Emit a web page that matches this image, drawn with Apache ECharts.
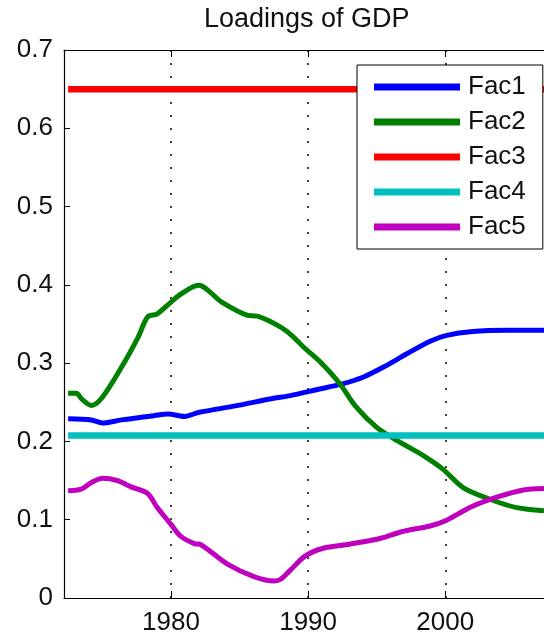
<!DOCTYPE html>
<html>
<head>
<meta charset="utf-8">
<script src="https://cdn.jsdelivr.net/npm/echarts@6/dist/echarts.min.js"></script>
<style>
  html, body { margin: 0; padding: 0; background: #fff; }
  #chart { width: 544px; height: 635px; }
</style>
</head>
<body>
<div id="chart"></div>
<script>
// 数据：[年份, 载荷]
const fac1 = [[1972.5, 0.229], [1974.2, 0.2275], [1975.0, 0.2235], [1976.4, 0.2275], [1978.8, 0.233],
  [1979.8, 0.235], [1981.0, 0.232], [1982.0, 0.237], [1984.9, 0.246], [1987.3, 0.2545],
  [1988.7, 0.2585], [1990.6, 0.266], [1992.5, 0.2735], [1994.0, 0.282], [1995.5, 0.295],
  [1997.2, 0.312], [1998.9, 0.328], [2000.1, 0.3355], [2002.0, 0.3405], [2004.5, 0.342], [2007.2, 0.342]]
const fac2 = [[1972.5, 0.2615], [1973.1, 0.2615], [1973.5, 0.254], [1974.2, 0.246], [1975.0, 0.2565],
  [1976.4, 0.295], [1977.6, 0.333], [1978.3, 0.359], [1979.0, 0.363], [1980.0, 0.378],
  [1980.7, 0.388], [1982.0, 0.3995], [1983.7, 0.378], [1985.6, 0.361], [1986.3, 0.36],
  [1988.0, 0.346], [1988.9, 0.334], [1989.7, 0.32], [1990.8, 0.303], [1992.3, 0.274],
  [1993.5, 0.244], [1995.0, 0.218], [1996.6, 0.2], [1998.4, 0.182], [1999.8, 0.165],
  [2001.3, 0.141], [2003.2, 0.1265], [2005.2, 0.1155], [2007.2, 0.1115]]
const fac3 = [[1972.5, 0.65], [2007.2, 0.65]]
const fac4 = [[1972.5, 0.2075], [2007.2, 0.2075]]
const fac5 = [[1972.5, 0.137], [1973.45, 0.139], [1974.2, 0.1475], [1975.0, 0.153], [1976.1, 0.15],
  [1977.1, 0.142], [1978.3, 0.1335], [1979.0, 0.1155], [1980.0, 0.094], [1980.7, 0.079],
  [1981.7, 0.0695], [1982.2, 0.068], [1984.15, 0.043], [1986.1, 0.027], [1987.55, 0.0218],
  [1988.0, 0.024], [1988.65, 0.0346], [1989.8, 0.0538], [1991.1, 0.0636], [1993.0, 0.0687],
  [1995.0, 0.075], [1996.9, 0.085], [1998.9, 0.092], [2000.1, 0.0994], [2001.8, 0.1156],
  [2003.7, 0.1284], [2005.7, 0.138], [2007.2, 0.14]]

const seriesNames = ["Fac1", "Fac2", "Fac3", "Fac4", "Fac5"]
const seriesData = [fac1, fac2, fac3, fac4, fac5]
const seriesColors = ["#0000ff", "#008000", "#ff0000", "#00bfbf", "#bf00bf"]
const xTicks = [1980, 1990, 2000]

const font = "'Liberation Sans', Arial, sans-serif"
const chart = echarts.init(document.getElementById("chart"), null, { renderer: "canvas" })

// 坐标轴公共样式
const axisLine = { show: true, lineStyle: { color: "#000", width: 1.2 } }

chart.setOption({
  animation: false,
  title: {
    text: "Loadings of GDP",
    left: 204,
    top: 6,
    padding: 0,
    textStyle: { fontFamily: font, fontSize: 27, fontWeight: "normal", color: "#111" }
  },
  grid: { left: 64, right: 0, top: 50, bottom: 37, outerBoundsMode: "none" },
  legend: {
    orient: "vertical",
    left: 357,
    top: 65,
    padding: [9, 17, 9, 17],
    itemGap: 9,
    itemWidth: 86,
    itemHeight: 7,
    icon: "rect",
    backgroundColor: "#fff",
    borderColor: "#000",
    borderWidth: 1,
    textStyle: { fontFamily: font, fontSize: 26, lineHeight: 26, color: "#111", padding: [0, 0, 0, 3] },
    data: seriesNames
  },
  xAxis: [
    {
      type: "value",
      min: 1972.2,
      max: 2007.2,
      axisLine: axisLine,
      axisTick: { show: true, inside: true, length: 7, customValues: xTicks, lineStyle: { color: "#000" } },
      axisLabel: {
        customValues: xTicks,
        formatter: (v) => String(v),
        margin: 12,
        fontFamily: font,
        fontSize: 26,
        color: "#111"
      },
      splitLine: { show: true, lineStyle: { color: "#000", width: 1.5, type: [2, 11] } }
    },
    {
      type: "value",
      position: "top",
      min: 1972.2,
      max: 2007.2,
      axisLine: axisLine,
      axisTick: { show: true, inside: true, length: 7, customValues: xTicks, lineStyle: { color: "#000" } },
      axisLabel: { show: false },
      splitLine: { show: false }
    }
  ],
  yAxis: {
    type: "value",
    min: 0,
    max: 0.7,
    interval: 0.1,
    axisLine: axisLine,
    axisTick: { show: true, inside: true, length: 6, lineStyle: { color: "#000" } },
    axisLabel: { margin: 11, fontFamily: font, fontSize: 26, color: "#111" },
    splitLine: { show: false }
  },
  series: seriesNames.map((name, i) => ({
    name: name,
    type: "line",
    data: seriesData[i],
    showSymbol: false,
    smooth: seriesData[i].length > 2 ? 0.3 : false,
    color: seriesColors[i],
    lineStyle: { width: seriesData[i].length > 2 ? 5 : 6.5, color: seriesColors[i] }
  }))
})
</script>
</body>
</html>
